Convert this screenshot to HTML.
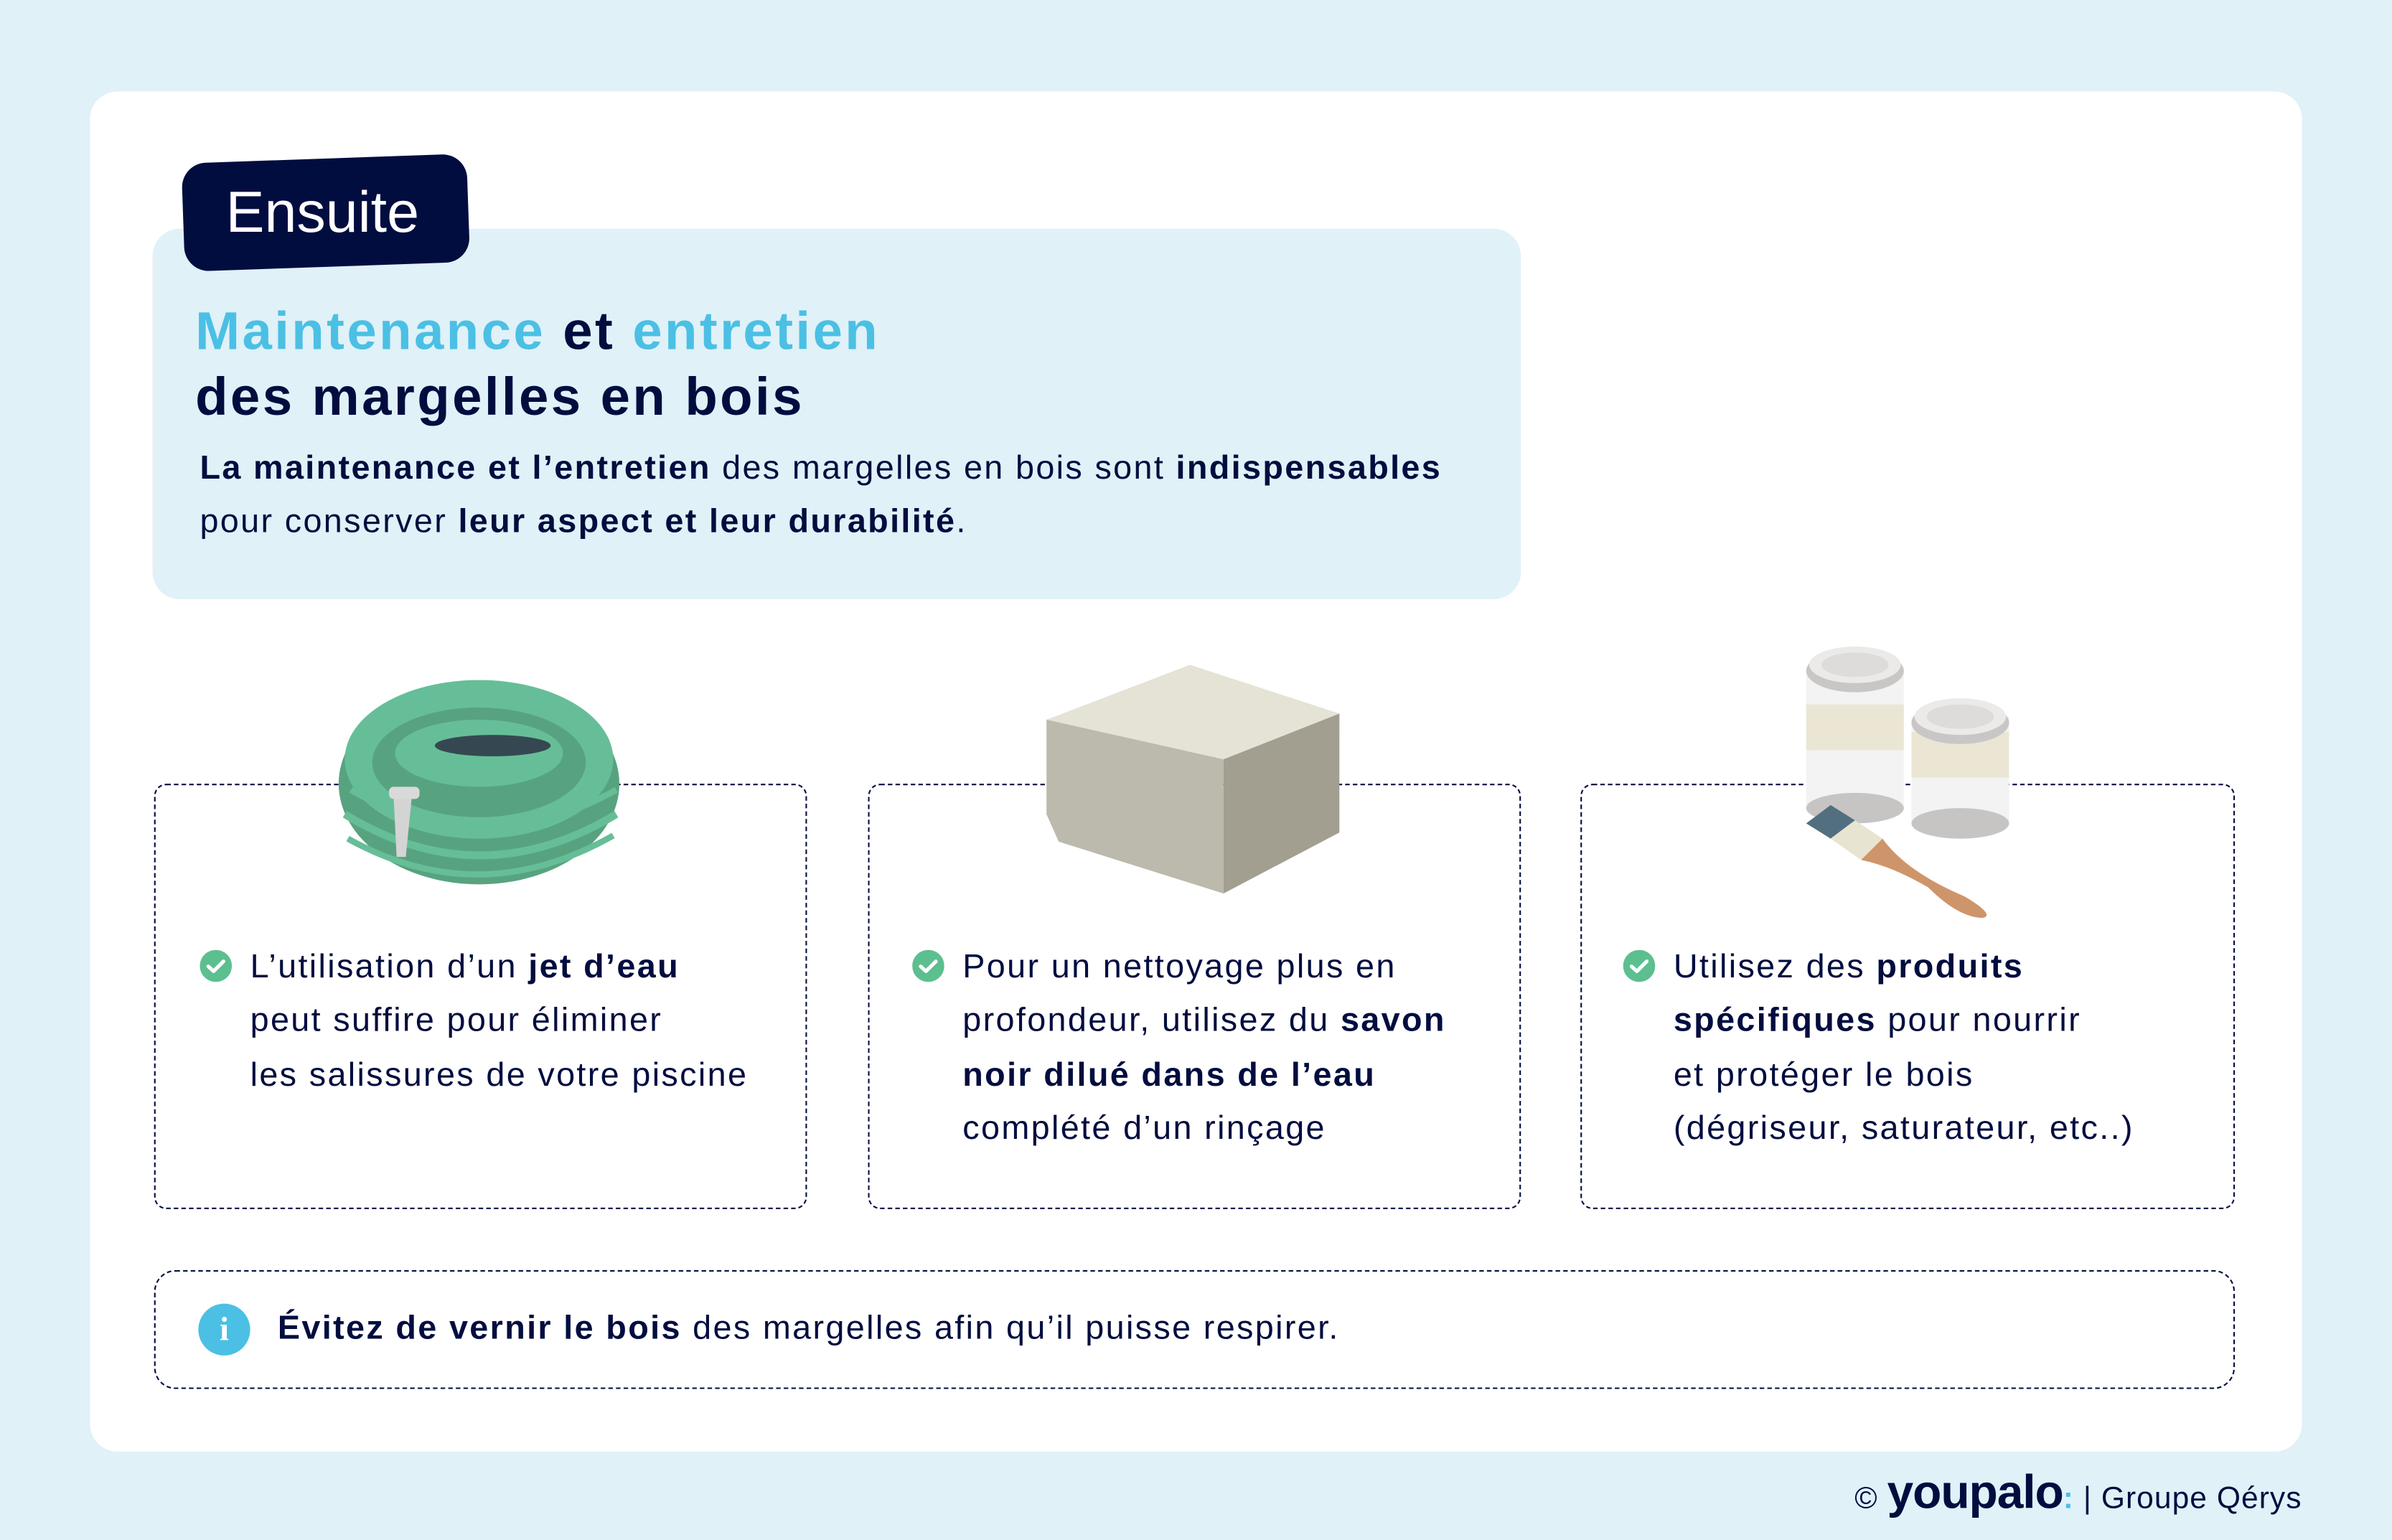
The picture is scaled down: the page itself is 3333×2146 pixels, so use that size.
<!DOCTYPE html>
<html><head><meta charset="utf-8">
<style>
html,body{margin:0;padding:0;}
body{width:3333px;height:2146px;overflow:hidden;background:#e0f1f8;}
#w{position:absolute;left:0;top:0;width:1568px;height:1010px;transform:scale(2.12564,2.12475);transform-origin:0 0;font-family:"Liberation Sans",sans-serif;color:#020d3f;}
.a{position:absolute;}
.card{position:absolute;border:1.3px dashed #020d3f;border-radius:8px;background:transparent;}
.t{font-size:22px;line-height:35.3px;white-space:nowrap;letter-spacing:1.1px;}
b{font-weight:bold;}
.chk{position:absolute;width:21px;height:21px;}
</style></head><body>
<div id="w">
<div class="a" style="left:59px;top:60px;width:1450px;height:892px;background:#fff;border-radius:18px;"></div>
<div class="a" style="left:100px;top:150px;width:897px;height:243px;background:#e0f1f8;border-radius:18px;"></div>
<div class="a" style="left:120px;top:104px;width:187px;height:71px;background:#020d3f;border-radius:16px;transform:rotate(-2deg);"></div>
<div class="a" style="left:148px;top:115px;font-size:38px;color:#fff;line-height:50px;">Ensuite</div>
<div class="a" style="left:128px;top:196px;font-size:35px;font-weight:bold;line-height:43px;white-space:nowrap;letter-spacing:1.6px;"><span style="color:#4bc0e4">Maintenance</span> et <span style="color:#4bc0e4">entretien</span><br>des margelles en bois</div>
<div class="a t" style="left:131px;top:289px;"><b>La maintenance et l’entretien</b> des margelles en bois sont <b>indispensables</b><br>pour conserver <b>leur aspect et leur durabilité</b>.</div>

<div class="card" style="left:101px;top:514px;width:426px;height:277px;"></div>
<div class="card" style="left:569px;top:514px;width:426px;height:277px;"></div>
<div class="card" style="left:1036px;top:514px;width:427px;height:277px;"></div>
<div class="card" style="left:101px;top:833px;width:1362px;height:76px;border-radius:14px;"></div>

<!-- hose -->
<svg class="a" style="left:218px;top:438px" width="196" height="148" viewBox="0 0 196 148">
<ellipse cx="96" cy="76" rx="92" ry="66" fill="#58a37f"/>
<ellipse cx="96" cy="60" rx="88" ry="52" fill="#66be98"/>
<ellipse cx="96" cy="62" rx="70" ry="36" fill="#58a37f"/>
<ellipse cx="96" cy="56" rx="55" ry="22" fill="#66be98"/>
<ellipse cx="105" cy="51" rx="38" ry="7" fill="#354851"/>
<path d="M8 96 Q96 150 186 96" stroke="#66be98" stroke-width="5" fill="none"/>
<path d="M10 112 Q96 160 184 110" stroke="#66be98" stroke-width="4" fill="none"/>
<path d="M12 80 Q96 130 186 80" stroke="#66be98" stroke-width="4" fill="none"/>
<polygon points="40,84 52,84 48,124 42,124" fill="#d4d4d4"/>
<rect x="37" y="78" width="20" height="8" rx="3" fill="#d9d9d9"/>
</svg>
<!-- block -->
<svg class="a" style="left:684px;top:434px" width="196" height="154" viewBox="0 0 196 154">
<polygon points="2,38 70,12 96,2 194,34 118,64 20,46" fill="#e5e3d6"/>
<polygon points="2,38 118,64 118,152 10,118 2,100" fill="#bcbaad"/>
<polygon points="118,64 194,34 194,112 118,152" fill="#a29f90"/>
</svg>
<!-- cans and brush -->
<svg class="a" style="left:1180px;top:422px" width="140" height="182" viewBox="0 0 140 182">
<rect x="4" y="16" width="64" height="92" fill="#f3f3f3"/>
<rect x="4" y="40" width="64" height="30" fill="#ebe6d4"/>
<ellipse cx="36" cy="108" rx="32" ry="10" fill="#c6c5c3"/>
<ellipse cx="36" cy="18" rx="32" ry="14" fill="#c8c7c5"/>
<ellipse cx="36" cy="14" rx="30" ry="12" fill="#eceae8"/>
<ellipse cx="36" cy="14" rx="22" ry="8" fill="#dedcda"/>
<rect x="73" y="48" width="64" height="70" fill="#f3f3f3"/>
<rect x="73" y="58" width="64" height="30" fill="#ebe6d4"/>
<ellipse cx="105" cy="118" rx="32" ry="10" fill="#c6c5c3"/>
<ellipse cx="105" cy="52" rx="32" ry="14" fill="#c8c7c5"/>
<ellipse cx="105" cy="48" rx="30" ry="12" fill="#eceae8"/>
<ellipse cx="105" cy="48" rx="22" ry="8" fill="#dedcda"/>
<polygon points="4,118 20,106 36,116 20,128" fill="#526f80"/>
<polygon points="20,128 36,116 54,128 40,142" fill="#e8e4d2"/>
<path d="M40 142 L54 128 Q70 150 108 166 Q128 178 120 180 Q104 180 84 160 Q60 146 40 142Z" fill="#cf956a"/>
</svg>

<svg class="chk" style="left:131px;top:623px" viewBox="0 0 21 21"><circle cx="10.5" cy="10.5" r="10.5" fill="#5cbf8f"/><path d="M5.5 10.8 L9 14 L15.5 7.5" stroke="#fff" stroke-width="2.4" fill="none" stroke-linecap="round" stroke-linejoin="round"/></svg>
<svg class="chk" style="left:598px;top:623px" viewBox="0 0 21 21"><circle cx="10.5" cy="10.5" r="10.5" fill="#5cbf8f"/><path d="M5.5 10.8 L9 14 L15.5 7.5" stroke="#fff" stroke-width="2.4" fill="none" stroke-linecap="round" stroke-linejoin="round"/></svg>
<svg class="chk" style="left:1064px;top:623px" viewBox="0 0 21 21"><circle cx="10.5" cy="10.5" r="10.5" fill="#5cbf8f"/><path d="M5.5 10.8 L9 14 L15.5 7.5" stroke="#fff" stroke-width="2.4" fill="none" stroke-linecap="round" stroke-linejoin="round"/></svg>
<div class="a t" style="left:164px;top:616px;">L’utilisation d’un <b>jet d’eau</b><br>peut suffire pour éliminer<br>les salissures de votre piscine</div>
<div class="a t" style="left:631px;top:616px;">Pour un nettoyage plus en<br>profondeur, utilisez du <b>savon</b><br><b>noir dilué dans de l’eau</b><br>complété d’un rinçage</div>
<div class="a t" style="left:1097px;top:616px;">Utilisez des <b>produits</b><br><b>spécifiques</b> pour nourrir<br>et protéger le bois<br>(dégriseur, saturateur, etc..)</div>

<div class="a" style="left:130px;top:855px;width:34px;height:34px;border-radius:50%;background:#4bc0e4;color:#fff;font-weight:bold;font-size:22px;text-align:center;line-height:34px;font-family:'Liberation Serif',serif;">i</div>
<div class="a t" style="left:182px;top:853px;"><b>Évitez de vernir le bois</b> des margelles afin qu’il puisse respirer.</div>

<div class="a" style="right:59px;top:962px;width:1568px;text-align:right;font-size:20px;line-height:34px;white-space:nowrap;letter-spacing:0.5px;">© <span style="font-size:31px;font-weight:bold;letter-spacing:-0.5px;">youpalo</span><span style="color:#4bc0e4;font-weight:bold;">:</span> | Groupe Qérys</div>
</div>
</body></html>
